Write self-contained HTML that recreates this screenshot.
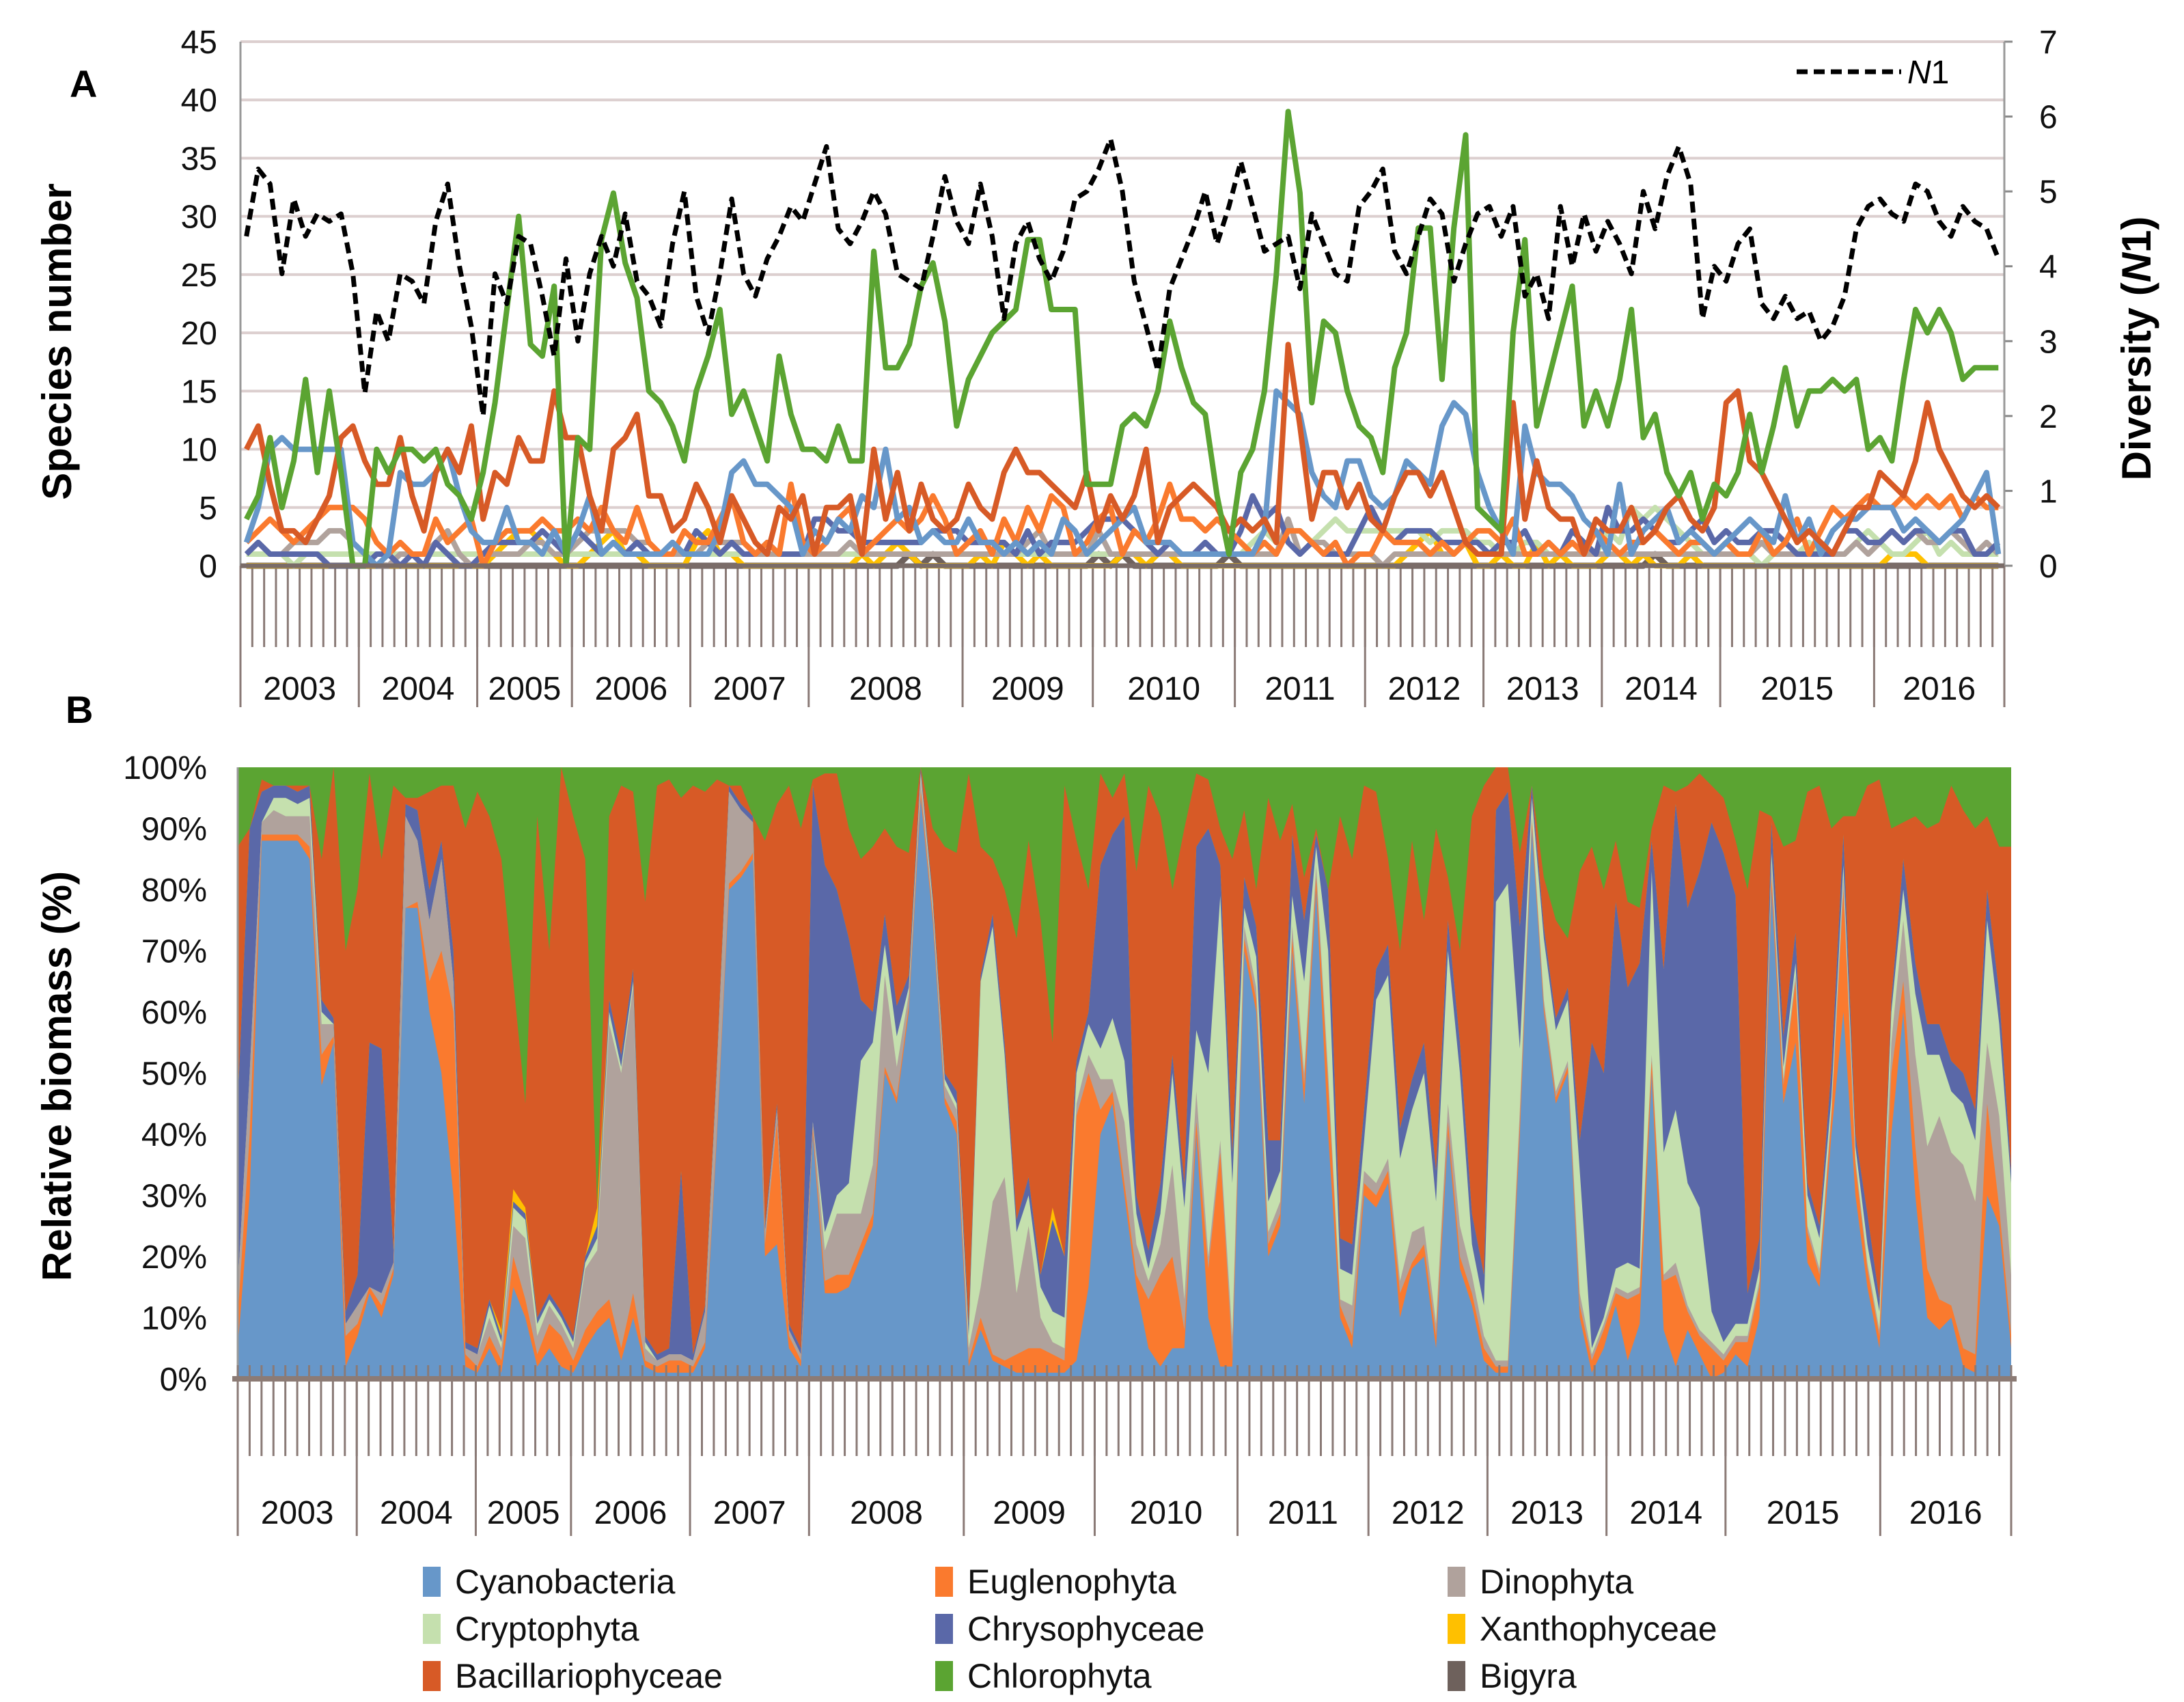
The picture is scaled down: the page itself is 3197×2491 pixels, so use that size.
<!DOCTYPE html>
<html><head><meta charset="utf-8"><style>
html,body{margin:0;padding:0;background:#fff;}
svg{display:block;font-family:"Liberation Sans",Arial,sans-serif;}
</style></head><body>
<svg id="chart" xmlns="http://www.w3.org/2000/svg" width="3197" height="2491" viewBox="0 0 3197 2491">
<rect x="0" y="0" width="3197" height="2491" fill="#fff"/>
<g id="pa"></g>
<g id="pb"></g>
<text x="102" y="142" font-size="56" font-weight="bold">A</text>
<text x="96" y="1058" font-size="56" font-weight="bold">B</text>
<text transform="translate(104,500) rotate(-90)" text-anchor="middle" font-size="60" font-weight="bold">Species number</text>
<text transform="translate(3148,510) rotate(-90)" text-anchor="middle" font-size="60" font-weight="bold">Diversity (<tspan font-style="italic">N</tspan>1)</text>
<text transform="translate(104,1575) rotate(-90)" text-anchor="middle" font-size="60" font-weight="bold">Relative biomass (%)</text>
<g>
<line x1="2630" y1="105" x2="2783" y2="105" stroke="#000" stroke-width="7" stroke-dasharray="16,9"/>
<text x="2792" y="122" font-size="48"><tspan font-style="italic">N</tspan>1</text>
</g>
<g id="legend"></g>
</svg>
<script>
const years=["2003","2004","2005","2006","2007","2008","2009","2010","2011","2012","2013","2014","2015","2016"];
const yearCounts=[10,10,8,10,10,13,11,12,11,10,10,10,13,11];
const speciesTicks=[0,5,10,15,20,25,30,35,40,45];
const diversityTicks=[0,1,2,3,4,5,6,7];
const percentTicks=[0,10,20,30,40,50,60,70,80,90,100];

const n1=[4.4,5.3,5.1,3.9,4.9,4.4,4.7,4.6,4.7,3.9,
2.3,3.4,3.0,3.9,3.8,3.5,4.6,5.1,4.0,3.2,
2.0,3.9,3.5,4.4,4.3,3.6,2.8,4.1,3.0,3.9,
4.4,4.0,4.7,3.8,3.6,3.2,4.3,5.0,3.6,3.1,
3.9,4.9,3.9,3.6,4.1,4.4,4.8,4.6,5.1,5.6,
4.5,4.3,4.6,5.0,4.7,3.9,3.8,3.7,4.4,5.2,
4.6,4.3,5.1,4.4,3.3,4.3,4.6,4.1,3.8,4.2,
4.9,5.0,5.3,5.7,5.0,3.8,3.2,2.6,3.7,4.1,
4.5,5.0,4.3,4.8,5.4,4.8,4.2,4.3,4.4,3.7,
4.7,4.3,3.9,3.8,4.8,5.0,5.3,4.2,3.9,4.4,
4.9,4.7,3.8,4.3,4.7,4.8,4.4,4.8,3.6,3.9,
3.3,4.8,4.0,4.7,4.2,4.6,4.3,3.9,5.0,4.5,
5.2,5.6,5.1,3.3,4.0,3.8,4.3,4.5,3.5,3.3,
3.6,3.3,3.4,3.0,3.2,3.6,4.5,4.8,4.9,4.7,
4.6,5.1,5.0,4.6,4.4,4.8,4.6,4.5,4.1];

const cyanoA=[2,5,10,11,10,10,10,10,10,2, 1,0,1,8,7,7,8,10,6,3, 2,2,5,2,2,1,3,1, 3,6,1,2,1,1,1,1,2,1, 1,1,3,8,9,7,7,6,5,1, 3,2,4,3,6,5,10,4,5,2,3,2,2, 4,2,2,1,2,1,2,1,4,3,1, 2,3,4,5,2,2,2,1,1,1,1,1, 1,1,3,15,14,13,8,6,5,9,9, 6,5,6,9,8,7,12,14,13,8, 5,3,1,12,8,7,7,6,4,3, 1,7,1,3,4,5,2,3,2,1, 2,3,4,3,2,6,2,4,1,3,4,4,5, 5,5,3,4,3,2,3,4,6,8,1];
const euglA=[2,3,4,3,2,3,4,5,5,5, 4,2,1,2,1,1,4,2,3,4, 0,2,3,3,3,4,3,3, 4,3,5,3,2,5,2,1,1,3, 2,2,4,6,2,1,2,1,7,2, 1,2,4,5,1,2,3,4,3,4,6,4,1, 2,3,1,4,2,5,3,6,5,1,2, 4,5,1,3,2,4,7,4,4,3,4,3, 2,1,2,1,3,3,2,1,2,0,1, 1,3,2,2,2,1,2,1,2,3, 3,2,4,1,1,2,1,2,1,3, 2,1,2,2,3,2,1,2,2,1, 2,1,1,3,1,2,4,1,3,5,4,5,6, 5,5,6,5,6,5,6,4,6,5,5];
const dinoA=[1,2,1,1,2,2,2,3,3,2, 1,0,0,1,1,1,2,3,1,0, 1,1,1,1,2,2,1,1, 2,3,3,3,3,2,2,1,1,1, 1,2,2,2,2,1,1,1,1,1, 1,1,1,2,1,1,1,1,1,1,1,1,1, 1,1,1,1,1,2,3,1,1,1,1, 3,1,1,1,1,1,1,1,1,1,1,1, 1,1,1,1,4,1,2,2,1,1,1, 1,0,1,1,1,1,1,1,2,1, 1,1,1,1,1,1,1,1,1,1, 1,1,1,1,1,1,1,1,1,1, 1,1,1,2,1,1,1,1,1,1,1,2,1, 2,3,2,3,2,2,3,2,1,2,1];
const cryptA=[1,1,1,1,0,1,1,1,1,1, 1,1,1,1,1,1,1,1,1,1, 1,1,1,1,1,1,1,1, 1,1,1,1,1,1,1,1,1,1, 1,1,1,1,1,1,1,1,1,1, 1,1,1,1,1,1,1,1,1,1,1,1,1, 1,1,1,1,1,1,1,1,1,1,1, 1,1,1,1,1,1,1,1,1,1,1,1, 1,2,3,2,3,3,2,3,4,3,3, 3,3,3,3,3,2,3,3,3,2, 2,1,1,2,2,1,1,3,2,1, 3,2,5,4,5,4,3,2,1,1, 1,1,1,0,1,2,1,2,1,1,1,2,3, 2,1,1,2,3,1,2,1,1,1,1];
const chrysA=[1,2,1,1,1,1,1,0,0,0, 0,1,1,0,1,0,2,1,0,0, 1,2,2,2,2,3,2,1, 3,2,1,2,1,2,1,1,2,1, 3,2,1,2,1,1,2,1,1,1, 4,4,3,3,2,2,2,2,2,2,3,3,3, 2,2,2,2,1,3,1,2,2,2,3, 4,4,4,3,2,1,2,1,1,2,1,1, 3,6,4,5,2,1,2,1,1,1,3, 5,3,2,3,3,3,2,2,2,2, 1,2,2,3,1,2,1,3,2,1, 5,3,3,4,3,2,2,3,4,2, 3,2,2,3,3,2,1,1,1,1,3,3,2, 2,3,2,3,3,2,3,3,1,1,2];
const xanthA=[0,0,0,0,0,0,0,0,0,0, 0,0,0,0,0,0,0,0,0,0, 0,1,2,3,3,2,1,0, 0,1,2,3,1,1,0,0,0,0, 2,3,1,1,0,0,0,0,0,0, 0,0,0,0,1,0,1,2,1,0,0,0,0, 0,1,0,2,1,0,1,0,0,0,0, 0,0,1,1,0,1,1,0,0,0,0,0, 0,0,0,0,0,0,0,0,0,0,0, 0,0,0,1,2,3,1,1,2,0, 0,1,0,0,2,0,1,0,0,0, 1,1,0,1,0,0,0,1,0,0, 0,0,0,0,0,0,0,0,0,0,0,0,0, 0,1,1,1,0,0,0,0,0,0,0];
const bacilA=[10,12,7,3,3,2,4,6,11,12, 9,7,7,11,6,3,8,10,8,12, 4,8,7,11,9,9,15,11, 11,6,3,10,11,13,6,6,3,4, 7,5,2,6,4,2,1,5,4,6, 1,5,5,6,1,10,4,8,3,7,4,3,4, 7,5,4,8,10,8,8,7,6,5,8, 3,6,4,6,10,2,5,6,7,6,5,3, 4,3,4,2,19,12,4,8,8,5,7, 4,3,6,8,8,6,8,5,2,1, 1,1,14,4,9,5,4,4,1,4, 3,3,5,2,3,5,6,4,3,5, 14,15,9,8,6,4,2,3,2,1,3,5,5, 8,7,6,9,14,10,8,6,5,6,5];
const chloroA=[4,6,11,5,9,16,8,15,8,0, 0,10,8,10,10,9,10,7,6,4, 8,14,22,30,19,18,24,0, 11,10,28,32,26,23,15,14,12,9, 15,18,22,13,15,12,9,18,13,10, 10,9,12,9,9,27,17,17,19,24,26,21,12, 16,18,20,21,22,28,28,22,22,22,7, 7,7,12,13,12,15,21,17,14,13,6,1, 8,10,15,25,39,32,14,21,20,15,12, 11,8,17,20,29,29,16,29,37,5, 4,3,20,28,12,16,20,24,12,15, 12,16,22,11,13,8,6,8,4,7, 6,8,13,8,12,17,12,15,15,16,15,16,10, 11,9,16,22,20,22,20,16,17,17,17];
const bigyraA=[0,0,0,0,0,0,0,0,0,0, 0,0,0,0,0,0,0,0,0,0, 0,0,0,0,0,0,0,0, 0,0,0,0,0,0,0,0,0,0, 0,0,0,0,0,0,0,0,0,0, 0,0,0,0,0,0,0,0,1,0,1,0,0, 0,0,0,0,0,0,0,0,0,0,0, 1,0,1,0,0,0,0,0,0,0,0,1, 0,0,0,0,0,0,0,0,0,0,0, 0,0,0,0,0,0,0,0,0,0, 0,0,0,0,0,0,0,0,0,0, 0,0,0,0,1,0,0,0,0,0, 0,0,0,0,0,0,0,0,0,0,0,0,0, 0,0,0,0,0,0,0,0,0,0,0];

const cyanoB=[5,30,88,88,88,88,85,48,55,2, 7,14,10,17,77,77,60,50,30,2, 1,5,1,15,10,2,5,2, 1,5,8,10,3,10,2,1,1,1, 1,5,40,80,82,85,20,22,5,2, 40,14,14,15,20,25,50,45,60,95,75,45,40, 2,8,3,2,1,1,1,1,1,3,15, 40,45,30,15,5,2,5,5,40,10,2,2, 70,60,20,25,70,45,80,40,10,5,30, 28,32,10,18,20,5,40,18,12,3, 1,1,40,90,60,45,50,10,1,5, 12,3,9,50,8,2,8,4,0,1, 4,2,10,80,45,55,19,15,40,60,30,15,5, 40,60,30,10,8,10,2,1,30,25,5];
const euglB=[5,10,1,1,1,1,2,5,1,5, 2,1,2,1,0,1,5,20,30,2, 1,2,2,5,3,2,4,5, 2,3,3,3,2,4,1,1,2,2, 1,1,1,1,1,1,2,20,2,1, 1,2,3,2,2,2,1,1,1,1,1,1,2, 1,2,1,1,3,4,4,3,2,40,35, 4,2,2,2,8,15,15,3,2,8,35,2, 2,2,2,2,2,3,2,8,2,2,2, 2,2,4,1,2,2,2,2,2,2, 1,1,2,1,1,1,1,2,2,3, 2,10,5,2,8,15,3,3,5,2, 2,4,5,2,3,10,5,2,3,20,5,3,2, 10,5,8,8,5,2,3,3,15,3,2];
const dinoB=[5,10,2,4,3,3,5,5,2,2, 3,0,2,1,15,10,10,15,5,1, 2,3,2,5,10,3,3,2, 2,10,10,45,45,50,2,1,1,1, 1,5,10,15,10,5,2,2,1,1, 1,5,10,10,5,8,15,5,2,2,1,2,2, 2,5,25,30,10,20,5,2,2,2,3, 5,2,10,5,3,5,15,5,5,2,2,3, 2,2,2,2,2,2,2,2,1,5,2, 2,2,2,5,3,2,3,5,3,2, 1,1,2,1,1,1,1,2,1,1, 1,1,1,1,1,2,1,1,1,1, 1,1,1,2,1,1,1,1,1,2,1,1,1, 5,10,15,20,30,25,30,25,10,15,10];
const cryptB=[0,0,0,2,3,2,3,2,0,0, 0,0,0,0,0,0,0,0,0,0, 0,2,1,3,3,2,1,1, 1,1,2,2,1,1,1,0,0,0, 0,0,0,0,0,0,0,0,0,0, 0,3,3,5,25,20,5,5,1,1,1,1,1, 2,50,45,20,10,5,5,5,5,5,5, 5,10,10,5,2,5,15,15,10,30,40,25, 3,5,5,5,5,15,3,20,5,5,5, 30,30,20,20,25,20,25,25,5,5, 75,78,10,3,10,10,10,20,1,1, 3,5,3,30,20,25,20,20,5,2, 2,2,2,2,2,2,5,5,2,2,2,3,3, 5,5,10,15,10,10,10,10,20,15,15];
const chrysB=[30,40,5,2,2,2,2,2,1,2, 5,40,40,2,2,5,5,3,5,1, 1,1,1,1,1,1,1,1, 1,1,2,2,2,2,1,1,1,30, 1,1,1,1,1,1,1,1,1,1, 55,60,50,40,10,5,5,5,2,2,1,1,2, 2,1,2,2,2,3,2,15,10,2,2, 30,30,40,3,3,5,3,4,30,40,5,5, 5,5,10,5,10,10,2,10,5,5,5, 5,5,5,5,5,5,5,5,5,5, 15,15,20,2,2,2,2,5,50,40, 60,45,50,5,30,50,45,55,80,80, 70,5,5,5,5,5,2,2,5,5,2,5,2, 2,5,5,5,5,5,5,5,5,5,2];
const xanthB=[0,0,0,0,0,0,0,0,0,0, 0,0,0,0,0,0,0,0,0,0, 0,0,1,2,1,0,0,0, 0,0,3,0,0,0,0,0,0,0, 0,0,0,0,0,0,0,0,0,0, 0,0,0,0,0,0,0,0,0,0,0,0,0, 0,0,0,0,0,0,0,2,0,0,0, 0,0,0,0,0,0,0,0,0,0,0,0, 0,0,0,0,0,0,0,0,0,0,0, 0,0,0,0,0,0,0,0,0,0, 0,0,0,0,0,0,0,0,0,0, 0,0,0,0,0,0,0,0,0,0, 0,0,0,0,0,0,0,0,0,0,0,0,0, 0,0,0,0,0,0,0,0,0,0,0];
const chloroB=[13,10,2,3,3,3,13,15,0,30, 20,1,15,3,5,5,4,3,3,10, 4,8,15,35,55,8,30,0, 8,15,72,8,3,4,22,3,2,5, 3,4,2,3,3,8,12,6,3,10, 2,1,1,10,15,13,10,13,14,3,10,13,14, 1,13,15,20,28,12,25,45,3,12,20, 1,5,1,17,3,8,20,10,1,2,10,15, 7,20,5,12,6,18,10,22,8,15,3, 4,15,30,12,25,10,18,30,8,3, 0,0,14,12,18,25,28,17,13,20, 12,22,23,10,3,4,3,1,3,5, 12,20,7,8,13,12,4,3,10,8,8,3,2, 10,9,8,10,9,3,7,10,8,13,13];

const NS="http://www.w3.org/2000/svg";
function mk(tag,attrs,parent){const e=document.createElementNS(NS,tag);for(const k in attrs)e.setAttribute(k,attrs[k]);parent.appendChild(e);return e;}
const N=n1.length;
const colors={cyano:"#6797c9",eugl:"#fa7a2e",dino:"#b0a29c",crypt:"#c5e0ae",chrys:"#5a68a8",xanth:"#ffc000",bacil:"#d75a26",chloro:"#5ba432",bigyra:"#6e615c"};

// ---------- Panel A ----------
const pa=document.getElementById('pa');
const AX0=352,AX1=2934,AY0=828,AY1=61;
const stepA=(AX1-AX0)/N;
const xA=i=>AX0+(i+0.5)*stepA;
const yA=v=>AY0-v*(AY0-AY1)/45;
const yN=v=>AY0-v*(AY0-AY1)/7;
speciesTicks.forEach(t=>{
  if(t>0){const g=mk('line',{x1:AX0,x2:AX1,y1:yA(t),y2:yA(t),stroke:"#dccfcf","stroke-width":4},pa);
  
  }
  const tx=mk('text',{x:318,y:yA(t)+17,"text-anchor":"end","font-size":48,fill:"#111"},pa);
  
  
  tx.textContent=t;
});
diversityTicks.forEach(t=>{
  const tk=mk('line',{x1:AX1,x2:AX1+12,y1:yN(t),y2:yN(t),stroke:"#888","stroke-width":3},pa);
  
  
  const tx=mk('text',{x:2985,y:yN(t)+17,"text-anchor":"start","font-size":48,fill:"#111"},pa);
  
  
  tx.textContent=t;
});
mk('line',{x1:AX0,x2:AX0,y1:AY1,y2:AY0,stroke:"#999","stroke-width":3},pa);
mk('line',{x1:AX1,x2:AX1,y1:AY1,y2:AY0,stroke:"#999","stroke-width":3},pa);
for(let k=0;k<=N;k++){
  const x=AX0+k*stepA;
  const l=mk('line',{x1:x,x2:x,y1:AY0,y2:947,stroke:"#8a7a76","stroke-width":3},pa);
  
  
}
function yearAxis(parent,x0,step,yTop,yBot,yLab,offset){
  let c=0;
  const sepAt=k=>x0+(k+offset)*step;
  const s0=mk('line',{x1:sepAt(0),x2:sepAt(0),y1:yTop,y2:yBot,stroke:"#8a7a76","stroke-width":3},parent);
  
  
  years.forEach((yr,j)=>{
    const a=sepAt(c);c+=yearCounts[j];const b=sepAt(c);
    const s=mk('line',{x1:b,x2:b,y1:yTop,y2:yBot,stroke:"#8a7a76","stroke-width":3},parent);
    
    
    const t=mk('text',{x:(a+b)/2,y:yLab,"text-anchor":"middle","font-size":48,fill:"#111"},parent);
    
    
    t.textContent=yr;
  });
}
yearAxis(pa,AX0,stepA,AY0,1035,1024,0);
function lineA(arr,color,name,w,yf,dash){
  const pts=arr.map((v,i)=>xA(i).toFixed(1)+","+yf(v).toFixed(1)).join(" ");
  const p=mk('polyline',{points:pts,fill:"none",stroke:color,"stroke-width":w,"stroke-linejoin":"round"},pa);
  if(dash)p.setAttribute('stroke-dasharray',dash);
  
  
}
lineA(bigyraA,colors.bigyra,'line-bigyra',9,yA);
lineA(xanthA,colors.xanth,'line-xanthophyceae',8,yA);
lineA(cryptA,colors.crypt,'line-cryptophyta',8,yA);
lineA(dinoA,colors.dino,'line-dinophyta',8,yA);
lineA(chrysA,colors.chrys,'line-chrysophyceae',8,yA);
lineA(euglA,colors.eugl,'line-euglenophyta',8,yA);
lineA(cyanoA,colors.cyano,'line-cyanobacteria',8,yA);
lineA(bacilA,colors.bacil,'line-bacillariophyceae',8,yA);
lineA(chloroA,colors.chloro,'line-chlorophyta',8,yA);
mk('line',{x1:AX0,x2:AX1,y1:AY0,y2:AY0,stroke:"#7a6c68","stroke-width":7},pa);
lineA(n1,"#000",'line-n1-diversity',7,yN,"16,9");

// ---------- Panel B ----------
const pb=document.getElementById('pb');
const BX0=348,BX1=2944,BY0=2018,BY1=1123;
const xB=i=>BX0+i*(BX1-BX0)/(N-1);
const yB=p=>BY0-p*(BY0-BY1)/100;
const stepB=(BX1-BX0)/N;
const bg=mk('rect',{x:BX0,y:BY1,width:BX1-BX0,height:BY0-BY1,fill:colors.chloro},pb);


const stackSeries=[["cyano",cyanoB,"area-cyanobacteria"],["eugl",euglB,"area-euglenophyta"],["dino",dinoB,"area-dinophyta"],["crypt",cryptB,"area-cryptophyta"],["chrys",chrysB,"area-chrysophyceae"],["xanth",xanthB,"area-xanthophyceae"]];
const lower=new Array(N).fill(0);
const bands=[];
stackSeries.forEach(([key,arr,name])=>{
  const lo=lower.slice();
  const hi=lo.map((v,i)=>Math.min(100,v+arr[i]));
  bands.push([key,lo,hi,name]);
  for(let i=0;i<N;i++)lower[i]=hi[i];
});
const bacTop=lower.map((v,i)=>Math.max(v,100-chloroB[i]));
bands.push(["bacil",lower.slice(),bacTop,"area-bacillariophyceae"]);
bands.slice().reverse().forEach(([key,lo,hi,name])=>{
  let pts=[];
  for(let i=0;i<N;i++)pts.push(xB(i).toFixed(1)+","+yB(hi[i]).toFixed(1));
  for(let i=N-1;i>=0;i--)pts.push(xB(i).toFixed(1)+","+yB(0).toFixed(1));
  const p=mk('polygon',{points:pts.join(" "),fill:colors[key],stroke:"none"},pb);
  
  
});
percentTicks.forEach(t=>{
  const tx=mk('text',{x:303,y:yB(t)+17,"text-anchor":"end","font-size":48,fill:"#111"},pb);
  
  
  tx.textContent=t+"%";
});
mk('line',{x1:BX0,x2:BX0,y1:BY1,y2:BY0,stroke:"#999","stroke-width":3},pb);
for(let k=0;k<=N;k++){
  const x=BX0+k*stepB;
  const l=mk('line',{x1:x,x2:x,y1:BY0-20,y2:2131,stroke:"#8a7a76","stroke-width":3},pb);
  
  
}
yearAxis(pb,BX0,stepB,BY0,2248,2230,0);
mk('line',{x1:BX0-8,x2:BX1+8,y1:BY0,y2:BY0,stroke:"#8c7b75","stroke-width":8},pb);

// ---------- Legend ----------
const lg=document.getElementById('legend');
const legendItems=[["Cyanobacteria","cyano"],["Euglenophyta","eugl"],["Dinophyta","dino"],["Cryptophyta","crypt"],["Chrysophyceae","chrys"],["Xanthophyceae","xanth"],["Bacillariophyceae","bacil"],["Chlorophyta","chloro"],["Bigyra","bigyra"]];
const colX=[619,1369,2119],rowY=[2315,2384,2453];
legendItems.forEach(([label,key],i)=>{
  const cx=colX[i%3],cy=rowY[Math.floor(i/3)];
  const g=mk('g',{},lg);
  
  
  mk('rect',{x:cx,y:cy-22,width:26,height:44,fill:colors[key]},g);
  const t=mk('text',{x:cx+47,y:cy+17,"font-size":50,fill:"#111"},g);
  t.textContent=label;
});
</script>
</body></html>
